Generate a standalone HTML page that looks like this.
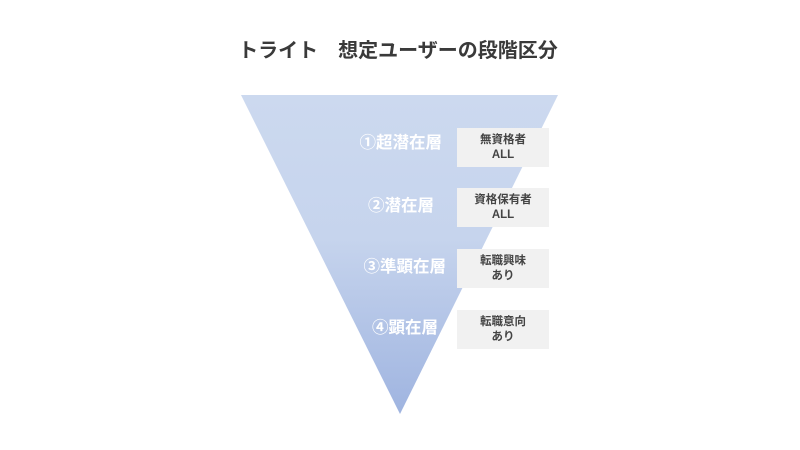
<!DOCTYPE html>
<html><head><meta charset="utf-8"><style>
body{margin:0;width:800px;height:450px;background:#fff;position:relative;overflow:hidden;font-family:"Liberation Sans","Noto Sans CJK JP",sans-serif}
.t{position:absolute;left:0;width:796px;top:34px;text-align:center;font-size:20px;font-weight:bold;color:#3a3a3a}
.l{position:absolute;color:#fff;font-weight:bold;font-size:16.5px;text-align:right;width:180px;line-height:20px}
.b{position:absolute;left:457px;width:92px;height:39px;background:#f1f1f1;color:#444;font-weight:bold;font-size:11.5px;text-align:center;line-height:15px;padding-top:5px;box-sizing:border-box}
</style></head><body>
<div class="t">トライト　想定ユーザーの段階区分</div>
<svg width="800" height="450" style="position:absolute;left:0;top:0">
<defs><linearGradient id="g" x1="0" y1="0" x2="0" y2="1">
<stop offset="0" stop-color="#ccd9ef"/><stop offset="0.45" stop-color="#c6d4ed"/><stop offset="1" stop-color="#9fb4e0"/></linearGradient></defs>
<polygon points="241,95 558,95 400,414" fill="url(#g)"/>
</svg>
<div class="l" style="left:262px;top:133px">①超潜在層</div>
<div class="l" style="left:254px;top:196px">②潜在層</div>
<div class="l" style="left:266px;top:257px">③準顕在層</div>
<div class="l" style="left:258px;top:318px">④顕在層</div>
<div class="b" style="top:128px">無資格者<br>ALL</div>
<div class="b" style="top:188px">資格保有者<br>ALL</div>
<div class="b" style="top:249px">転職興味<br>あり</div>
<div class="b" style="top:310px">転職意向<br>あり</div>
</body></html>
